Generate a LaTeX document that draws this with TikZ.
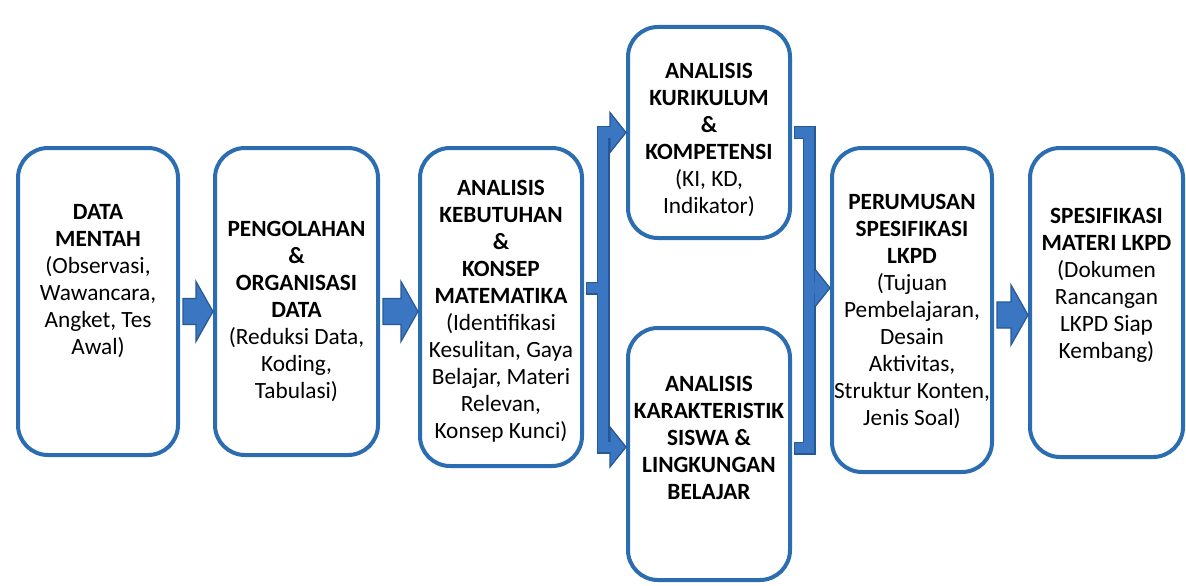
\documentclass[tikz,border=0pt]{standalone}
\usepackage{fontspec}
\setmainfont{Carlito}
\usetikzlibrary{calc}
\definecolor{boxblue}{RGB}{44,108,176}
\definecolor{arrfill}{RGB}{59,118,194}
\definecolor{arrline}{RGB}{38,88,148}
\tikzset{
 box/.style={draw=boxblue, line width=4pt, rounded corners=30pt, fill=white, inner sep=0pt},
 txt/.style={align=center, font=\fontsize{23.3}{27}\selectfont, inner sep=0pt},
 barrow/.style={fill=arrfill, draw=arrline, line width=1.2pt, line join=miter},
 barout/.style={draw=arrline, line width=13pt, line join=miter},
 barin/.style={draw=arrfill, line width=10.6pt, line join=miter},
 headstyle/.style={fill=arrfill, draw=arrline, line width=1.2pt, line join=miter},
}
\newcommand\myblockarrow[2]{%
 \draw[barrow] let \p1=#1, \p2=#2 in
 (\x1,\y1+13pt) -- (\x2-17pt,\y1+13pt) -- (\x2-17pt,\y1+30pt) -- (\x2,\y1)
 -- (\x2-17pt,\y1-30pt) -- (\x2-17pt,\y1-13pt) -- (\x1,\y1-13pt) -- cycle;}
\newcommand\myhead[1]{%
 \draw[headstyle] let \p1=#1 in
 (\x1-16pt,\y1+20pt) -- (\x1,\y1) -- (\x1-16pt,\y1-20pt) -- cycle;}
\begin{document}
\begin{tikzpicture}[x=1pt,y=-1pt]
\useasboundingbox (0,0) rectangle (1186,586);
\fill[white] (0,0) rectangle (1186,586);
% boxes
\node[box, minimum width=160pt, minimum height=307pt] (b1) at (98,301.5) {};
\node[box, minimum width=163pt, minimum height=307pt] (b2) at (296.5,301.5) {};
\node[box, minimum width=162pt, minimum height=318pt] (b3) at (501,307) {};
\node[box, minimum width=162pt, minimum height=211pt] (b4) at (709,132.5) {};
\node[box, minimum width=162pt, minimum height=252pt] (b5) at (709,454) {};
\node[box, minimum width=160pt, minimum height=324pt] (b6) at (912,310) {};
\node[box, minimum width=153pt, minimum height=309pt] (b7) at (1106.5,302.5) {};
% texts
\node[txt] (t1) at (98,281) {\textbf{DATA}\\\textbf{MENTAH}\\(Observasi,\\Wawancara,\\Angket, Tes\\Awal)};
\node[txt] (t2) at (296.5,311) {\textbf{PENGOLAHAN}\\\textbf{\&}\\\textbf{ORGANISASI}\\\textbf{DATA}\\(Reduksi Data,\\Koding,\\Tabulasi)};
\node[txt] (t3) at (501,311) {\textbf{ANALISIS}\\\textbf{KEBUTUHAN}\\\textbf{\&}\\\textbf{KONSEP}\\\textbf{MATEMATIKA}\\(Identifikasi\\Kesulitan, Gaya\\Belajar, Materi\\Relevan,\\Konsep Kunci)};
\node[txt] (t4) at (709,140) {\textbf{ANALISIS}\\\textbf{KURIKULUM}\\\textbf{\&}\\\textbf{KOMPETENSI}\\(KI, KD,\\Indikator)};
\node[txt] (t5) at (709,438) {\textbf{ANALISIS}\\\textbf{KARAKTERISTIK}\\\textbf{SISWA \&}\\\textbf{LINGKUNGAN}\\\textbf{BELAJAR}};
\node[txt] (t6) at (912,311) {\textbf{PERUMUSAN}\\\textbf{SPESIFIKASI}\\\textbf{LKPD}\\(Tujuan\\Pembelajaran,\\Desain\\Aktivitas,\\Struktur Konten,\\Jenis Soal)};
\node[txt] (t7) at (1106.5,285) {\textbf{SPESIFIKASI}\\\textbf{MATERI LKPD}\\(Dokumen\\Rancangan\\LKPD Siap\\Kembang)};
% straight block arrows
\coordinate (a1s) at ($(b1.east)+(3,10)$);
\coordinate (a1e) at (b2.west |- a1s);
\myblockarrow{(a1s)}{(a1e)}
\coordinate (a2s) at ($(b2.east)+(3,10)$);
\coordinate (a2e) at (b3.west |- a2s);
\myblockarrow{(a2s)}{(a2e)}
\coordinate (a3s) at ($(b6.east)+(3,5)$);
\coordinate (a3e) at (b7.west |- a3s);
\myblockarrow{(a3s)}{(a3e)}
% left fork
\coordinate (ls) at ($(b3.east)+(2,-19)$);
\coordinate (lv) at (603,288);
\coordinate (lt) at (603,132.5);
\coordinate (lb) at (603,447);
\coordinate (ht) at (b4.west);
\coordinate (hb) at ($(b5.west)+(0,-7)$);
% right fork
\coordinate (rt) at ($(b4.east)+(2,0)$);
\coordinate (rb) at ($(b5.east)+(2,-6)$);
\coordinate (rvt) at (809,132.5);
\coordinate (rvb) at (809,448);
\coordinate (rm) at (809,288);
\coordinate (hr) at (b6.west |- rm);
% outlines of bars
\draw[barout] (ls) -- (lv);
\draw[barout] ($(ht)+(-13,0)$) -- (lt) -- (lb) -- ($(hb)+(-13,0)$);
\draw[barout] (rt) -- (rvt) -- (rvb) -- (rb);
\draw[barout] (rm) -- ($(hr)+(-13,0)$);
% heads
\myhead{(ht)}
\myhead{(hb)}
\myhead{(hr)}
% fills of bars
\draw[barin] ($(ls)+(1.2,0)$) -- (lv);
\draw[barin] ($(ht)+(-14,0)$) -- (lt) -- (lb) -- ($(hb)+(-14,0)$);
\draw[barin] ($(rt)+(1.2,0)$) -- (rvt) -- (rvb) -- ($(rb)+(1.2,0)$);
\draw[barin] (rm) -- ($(hr)+(-14,0)$);
\end{tikzpicture}
\end{document}
